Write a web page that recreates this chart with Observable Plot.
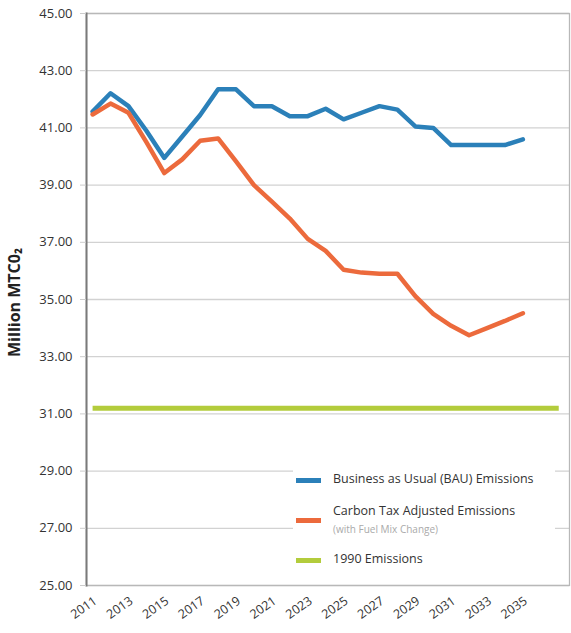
<!DOCTYPE html>
<html><head><meta charset="utf-8">
<script src="https://cdn.jsdelivr.net/npm/d3@7"></script>
<script src="https://cdn.jsdelivr.net/npm/@observablehq/plot@0.6"></script>
<style>
body{margin:0;background:#fff;}
#wrap{position:relative;width:571px;height:633px;}
#legend{position:absolute;left:293px;top:467px;width:262px;height:110px;background:#fff;font-family:"Open Sans",sans-serif;color:#333;}
.sw{position:absolute;left:3px;width:25px;height:5px;}
.lab{position:absolute;left:40px;white-space:nowrap;font-size:12.5px;line-height:1;}
.sub{position:absolute;left:40px;white-space:nowrap;font-size:10px;color:#aaa;line-height:1;}
</style></head><body><div id="wrap"></div>
<script>
const years = [2011,2012,2013,2014,2015,2016,2017,2018,2019,2020,2021,2022,2023,2024,2025,2026,2027,2028,2029,2030,2031,2032,2033,2034,2035];
const bau = [41.57,42.21,41.76,40.9,39.95,40.7,41.45,42.35,42.35,41.76,41.76,41.41,41.41,41.67,41.3,41.53,41.76,41.64,41.05,41.0,40.4,40.4,40.4,40.4,40.6];
const carbonTax = [41.47,41.85,41.53,40.5,39.42,39.9,40.55,40.63,39.83,39.0,38.42,37.83,37.12,36.7,36.04,35.94,35.9,35.9,35.12,34.5,34.08,33.75,34.0,34.25,34.52];
const years1990 = [2011,2037];
const emissions1990 = [31.2,31.2];
const yTicks = [25,27,29,31,33,35,37,39,41,43,45];
const xTicks = [2011,2013,2015,2017,2019,2021,2023,2025,2027,2029,2031,2033,2035];
const seriesNames = ["Business as Usual (BAU) Emissions","Carbon Tax Adjusted Emissions","1990 Emissions"];
const seriesNote = "(with Fuel Mix Change)";
const seriesColors = ["#2b80b9","#ec6a3c","#b3cc3c"];
const yLabel = "Million MTC0₂";

const chart = Plot.plot({
  width: 571, height: 633,
  marginLeft: 86, marginRight: 2, marginTop: 13, marginBottom: 48,
  x: {domain: [2010.66, 2037.6]},
  y: {domain: [25, 45]},
  style: {fontFamily: "Open Sans, sans-serif", background: "white"},
  marks: [
    Plot.gridY(yTicks, {stroke: "#d2d2d2", strokeOpacity: 1, strokeWidth: 1.3}),
    Plot.frame({stroke: "#b8b8b8", strokeWidth: 1.3}),
    Plot.frame({anchor: "left", stroke: "#7a7a7a", strokeWidth: 2}),
    Plot.axisY(yTicks, {tickSize: 6, tickPadding: 8, tickFormat: d => d.toFixed(2), fontSize: 13, stroke: "#cccccc", fill: "#333", label: null}),
    Plot.axisX(xTicks, {tickRotate: -35, tickSize: 0, tickPadding: 14, tickFormat: d => String(d), fontSize: 12.5, fill: "#333", dx: 3, label: null}),
    Plot.text([yLabel], {frameAnchor: "left", textAnchor: "middle", rotate: -90, dx: -72, dy: 3, fontSize: 16, fontWeight: "bold", fill: "#222"}),
    Plot.lineY(emissions1990, {x: years1990, stroke: seriesColors[2], strokeWidth: 5, strokeLinecap: "butt"}),
    Plot.lineY(bau, {x: years, stroke: seriesColors[0], strokeWidth: 4.5}),
    Plot.lineY(carbonTax, {x: years, stroke: seriesColors[1], strokeWidth: 4.5})
  ]
});
const wrap = document.getElementById("wrap");
wrap.appendChild(chart);

const legend = document.createElement("div");
legend.id = "legend";
const rows = [
  {sw: 11, lab: 6},
  {sw: 51, lab: 38, sub: 57},
  {sw: 91, lab: 86}
];
rows.forEach((r, i) => {
  const s = document.createElement("div");
  s.className = "sw"; s.style.top = r.sw + "px"; s.style.background = seriesColors[i];
  legend.appendChild(s);
  const t = document.createElement("div");
  t.className = "lab"; t.style.top = r.lab + "px"; t.textContent = seriesNames[i];
  legend.appendChild(t);
  if (r.sub) {
    const u = document.createElement("div");
    u.className = "sub"; u.style.top = r.sub + "px"; u.textContent = seriesNote;
    legend.appendChild(u);
  }
});
wrap.appendChild(legend);
</script>
</body></html>
